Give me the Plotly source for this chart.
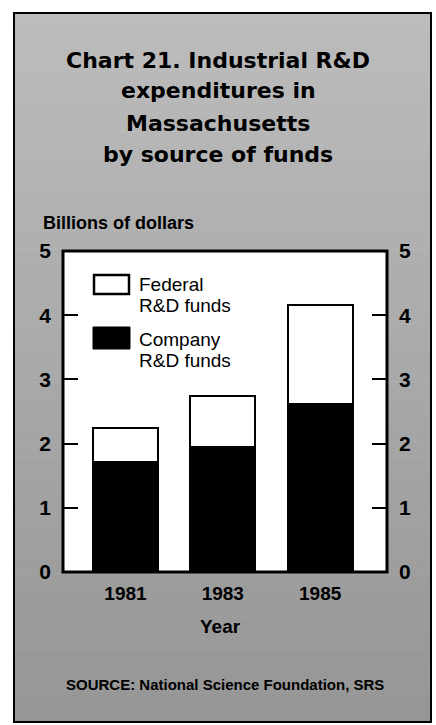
import plotly.graph_objects as go

# Industrial R&D expenditures in Massachusetts, billions of dollars
years = ["1981", "1983", "1985"]
company_funds = [1.72, 1.94, 2.62]
federal_funds = [0.52, 0.80, 1.54]
total_funds = [c + f for c, f in zip(company_funds, federal_funds)]
y_ticks = [0, 1, 2, 3, 4, 5]

W, H = 436, 725
L, R, T, B = 63, 387, 251, 572  # plot area edges in pixels


def px(x):
    return (x - L) / (R - L)


def py(y):
    return (B - y) / (B - T)


fig = go.Figure()
fig.add_trace(go.Bar(
    x=years, y=company_funds, name="Company R&D funds", width=0.668,
    marker=dict(color="black", line=dict(color="black", width=2)),
    showlegend=False, hoverinfo="skip",
))
fig.add_trace(go.Bar(
    x=years, y=federal_funds, name="Federal R&D funds", width=0.668,
    marker=dict(color="white", line=dict(color="black", width=2.5)),
    showlegend=False, hoverinfo="skip",
))
# carries the right-hand value axis
fig.add_trace(go.Scatter(
    x=years, y=total_funds, yaxis="y2", mode="none",
    showlegend=False, hoverinfo="skip",
))

shapes = []
# screened gray panel, slightly darker toward the bottom
n_bands = 48
top_px, bot_px = 13, 722
for i in range(n_bands):
    y0 = top_px + (bot_px - top_px) * i / n_bands
    y1 = top_px + (bot_px - top_px) * (i + 1) / n_bands
    g = int(round(188 - (188 - 150) * i / (n_bands - 1)))
    shapes.append(dict(
        type="rect", xref="paper", yref="paper", layer="below",
        x0=px(14), x1=px(431), y0=py(y1 + 0.5), y1=py(y0),
        fillcolor=f"rgb({g},{g},{g})", line=dict(width=0),
    ))
shapes.append(dict(
    type="rect", xref="paper", yref="paper", layer="below",
    x0=px(14), x1=px(431), y0=py(bot_px), y1=py(top_px),
    fillcolor="rgba(0,0,0,0)", line=dict(color="black", width=2),
))
# white plot area
shapes.append(dict(
    type="rect", xref="paper", yref="paper", layer="below",
    x0=0, x1=1, y0=0, y1=1, fillcolor="white", line=dict(width=0),
))
# heavy frame around the plot area
shapes.append(dict(
    type="rect", xref="paper", yref="paper", layer="above",
    x0=0, x1=1, y0=0, y1=1, line=dict(color="black", width=3),
))
# legend swatches
shapes.append(dict(
    type="rect", xref="paper", yref="paper", layer="above",
    x0=px(94), x1=px(129), y0=py(294), y1=py(275),
    fillcolor="white", line=dict(color="black", width=2.5),
))
shapes.append(dict(
    type="rect", xref="paper", yref="paper", layer="above",
    x0=px(93), x1=px(130), y0=py(349), y1=py(327),
    fillcolor="black", line=dict(color="black", width=1),
))

annotations = []
title_lines = ["Chart 21. Industrial R&D", "expenditures in",
               "Massachusetts", "by source of funds"]
for line, cy in zip(title_lines, [60, 91, 123, 154]):
    annotations.append(dict(
        text=line, xref="paper", yref="paper", x=px(218), y=py(cy),
        xanchor="center", yanchor="middle", showarrow=False,
        font=dict(family="DejaVu Sans", size=22, color="black", weight="bold"),
    ))
annotations.append(dict(
    text="Billions of dollars", xref="paper", yref="paper",
    x=px(41), y=py(223), xanchor="left", yanchor="middle", showarrow=False,
    font=dict(family="Liberation Sans", size=18, color="black", weight="bold"),
))
for line, cy in zip(["Federal", "R&D funds", "Company", "R&D funds"],
                    [284, 305, 339, 360]):
    annotations.append(dict(
        text=line, xref="paper", yref="paper", x=px(137), y=py(cy),
        xanchor="left", yanchor="middle", showarrow=False,
        font=dict(family="Liberation Sans", size=19, color="black"),
    ))
annotations.append(dict(
    text="Year", xref="paper", yref="paper", x=px(220), y=py(626),
    xanchor="center", yanchor="middle", showarrow=False,
    font=dict(family="Liberation Sans", size=19, color="black", weight="bold"),
))
annotations.append(dict(
    text="SOURCE: National Science Foundation, SRS", xref="paper", yref="paper",
    x=px(225), y=py(684), xanchor="center", yanchor="middle", showarrow=False,
    font=dict(family="Liberation Sans", size=15, color="black", weight="bold"),
))

tick_font = dict(family="Liberation Sans", size=21, color="black", weight="bold")
axis_common = dict(
    range=[0, 5], tickvals=y_ticks, ticks="inside", ticklen=15, tickwidth=2,
    tickcolor="black", showgrid=False, zeroline=False, showline=False,
    tickfont=tick_font, ticklabelstandoff=11, fixedrange=True,
)

fig.update_layout(
    width=W, height=H, autosize=False,
    margin=dict(l=L, r=W - R, t=T, b=H - B, pad=0),
    paper_bgcolor="white", plot_bgcolor="white",
    barmode="stack", bargap=0,
    showlegend=False,
    xaxis=dict(
        type="category", range=[-0.642, 2.687], ticks="", showgrid=False,
        zeroline=False, showline=False, ticklabelstandoff=8,
        tickfont=dict(family="Liberation Sans", size=19, color="black", weight="bold"),
    ),
    yaxis=dict(side="left", **axis_common),
    yaxis2=dict(side="right", overlaying="y", anchor="x", **axis_common),
    shapes=shapes,
    annotations=annotations,
)

fig.write_html("out.html")
